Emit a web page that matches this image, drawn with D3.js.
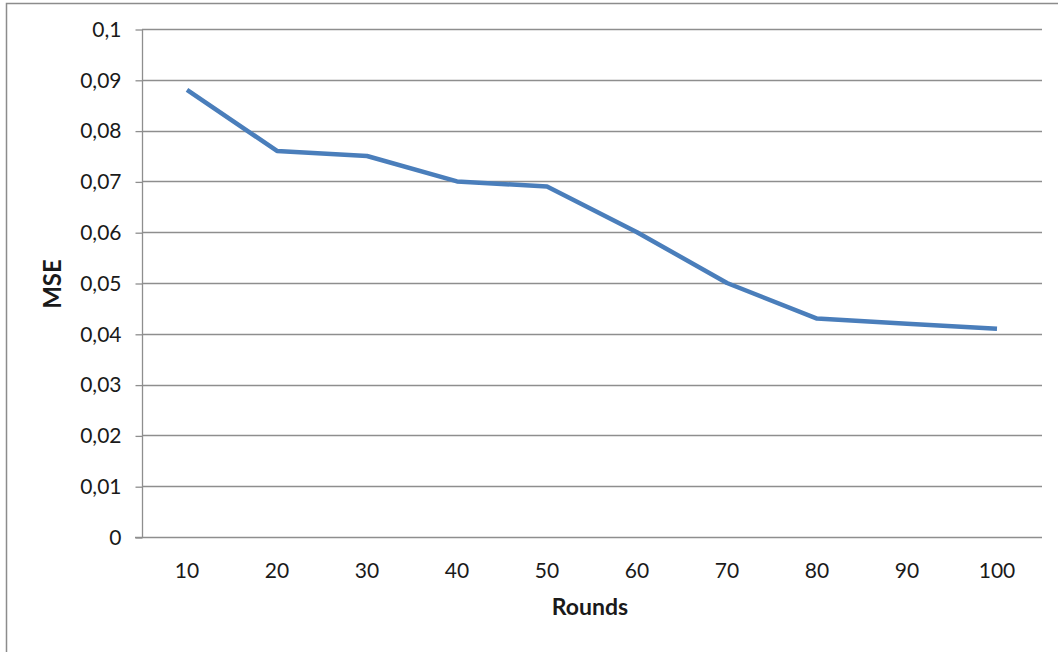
<!DOCTYPE html>
<html>
<head>
<meta charset="utf-8">
<script src="https://cdn.jsdelivr.net/npm/d3@7"></script>
<style>
  html, body { margin: 0; padding: 0; background: #fff; }
  svg { display: block; }
  text { font-family: Lato, "Open Sans", sans-serif; fill: #1a1a1a; }
</style>
</head>
<body>
<svg id="chart" width="1058" height="652"></svg>
<script>
// MSE per number of training rounds
const rounds = ["10", "20", "30", "40", "50", "60", "70", "80", "90", "100"];
const mse = [0.088, 0.076, 0.075, 0.070, 0.069, 0.060, 0.050, 0.043, 0.042, 0.041];
const yTicks = [0, 0.01, 0.02, 0.03, 0.04, 0.05, 0.06, 0.07, 0.08, 0.09, 0.1];

const svg = d3.select("#chart");
const plot = { left: 142, right: 1042, top: 29, bottom: 537 };

// outer frame (left and top edges visible)
svg.append("path")
  .attr("d", "M6.5,652 L6.5,3.5 L1058,3.5")
  .attr("fill", "none")
  .attr("stroke", "#8c8c8c")
  .attr("stroke-width", 1.5);

const x = d3.scaleBand().domain(rounds).range([plot.left, plot.right]);
const y = d3.scaleLinear().domain([0, 0.1]).range([plot.bottom, plot.top]);

const fmt = d => d === 0 ? "0" : String(+d.toFixed(2)).replace(".", ",");

// horizontal gridlines
svg.append("g")
  .selectAll("line")
  .data(yTicks.filter(d => d > 0))
  .join("line")
  .attr("x1", plot.left).attr("x2", plot.right)
  .attr("y1", d => Math.round(y(d)) + 0.5).attr("y2", d => Math.round(y(d)) + 0.5)
  .attr("stroke", "#8e8e8e").attr("stroke-width", 1.3);

// y axis
const yAxis = d3.axisLeft(y).tickValues(yTicks).tickFormat(fmt).tickSize(7).tickPadding(14);
const gy = svg.append("g").attr("transform", `translate(${plot.left + 0.5},0.5)`).call(yAxis);
gy.attr("font-size", null).attr("font-family", null);
gy.selectAll("line, path").attr("stroke", "#8e8e8e").attr("stroke-width", 1.3);
gy.select(".domain").attr("d", `M0,${plot.top}V${plot.bottom}`);
gy.selectAll("text").style("font-size", "21px").attr("fill", "#1a1a1a");

// x axis
const xAxis = d3.axisBottom(x).tickSize(0).tickPadding(26);
const gx = svg.append("g").attr("transform", `translate(0,${plot.bottom + 0.5})`).call(xAxis);
gx.attr("font-size", null).attr("font-family", null);
gx.select(".domain").attr("d", `M${plot.left - 7},0H${plot.right}`).attr("stroke", "#8e8e8e").attr("stroke-width", 1.3);
gx.selectAll("text").style("font-size", "21px").attr("fill", "#1a1a1a");

// series line
const line = d3.line()
  .x((d, i) => x(rounds[i]) + x.bandwidth() / 2)
  .y(d => y(d));
svg.append("path")
  .datum(mse)
  .attr("d", line)
  .attr("fill", "none")
  .attr("stroke", "#4a7ebb")
  .attr("stroke-width", 4.5)
  .attr("stroke-linejoin", "round");

// axis titles
svg.append("text")
  .attr("transform", "translate(61,284) rotate(-90)")
  .attr("text-anchor", "middle")
  .style("font-size", "24px").attr("font-weight", "bold")
  .text("MSE");
svg.append("text")
  .attr("x", 590).attr("y", 615)
  .attr("text-anchor", "middle")
  .style("font-size", "23px").attr("font-weight", "bold")
  .text("Rounds");
</script>
</body>
</html>
